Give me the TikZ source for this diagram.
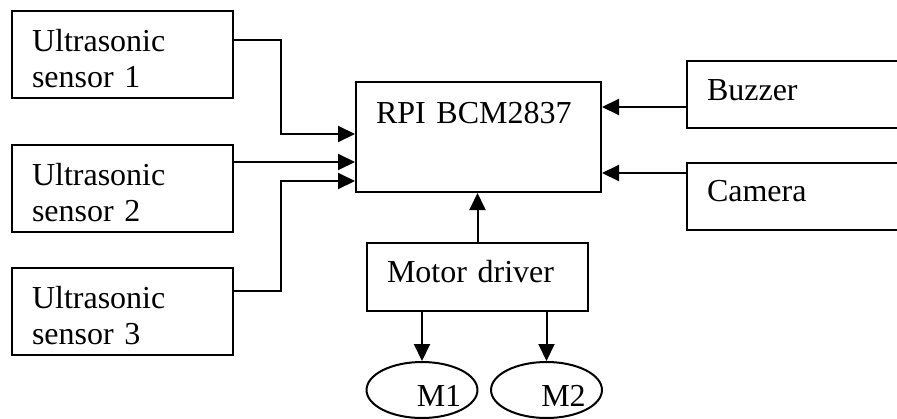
\documentclass[tikz,border=0pt]{standalone}
\usepackage{fontspec}
\setmainfont{Liberation Serif}
\usepackage{tikz}
\usetikzlibrary{positioning,arrows.meta,shapes.geometric}

\begin{document}
\begin{tikzpicture}[
  x=1pt, y=-1pt,
  font=\fontsize{32}{35.6}\selectfont,
  box/.style={rectangle,draw,line width=2pt, inner xsep=20pt,
              align=left, anchor=center},
  sensorbox/.style={box, text width=181pt, minimum height=87pt,
              text height=30pt},
  motor/.style={ellipse,draw,line width=2pt, inner sep=0pt,
              minimum width=110pt, minimum height=56pt,
              text height=33pt, text depth=0pt},
  arr/.style={line width=2pt, -{Triangle[length=17pt,width=16pt]}},
  node distance=45pt
]
  \useasboundingbox (0,0) rectangle (897,418);

  % sensors on the left
  \node[sensorbox]                  (s1) at (122.5,54.5) {Ultrasonic\\sensor 1};
  \node[sensorbox, below=of s1]     (s2) {Ultrasonic\\sensor 2};
  \node[sensorbox, below=34pt of s2] (s3) {Ultrasonic\\sensor 3};

  % controller and the rest
  \node[box, text width=205pt, minimum height=110pt,
        text height=21pt, text depth=48.4pt] (rpi) at (478.5,137) {RPI BCM2837};
  \node[box, text width=300pt, minimum height=67pt,
        text height=20.5pt, text depth=9.5pt] (bz) at (707+150,94.5) {Buzzer};
  \node[box, text width=300pt, minimum height=67pt,
        text height=20.5pt, text depth=10pt] (cam) at (707+150,196.5) {Camera};
  \node[box, text width=181pt, minimum height=68pt,
        text height=21.2pt, text depth=11.2pt] (md) at (477.5,277) {Motor driver};

  \node[motor] (m1) at (422,390)   {\hspace*{34pt}M1};
  \node[motor] (m2) at (546.5,390) {\hspace*{34pt}M2};

  % entry points on the controller
  \coordinate (bus) at (281,0);
  \coordinate (r1) at ([yshift=3pt]rpi.west);
  \coordinate (r2) at ([yshift=-25pt]rpi.west);
  \coordinate (r3) at ([yshift=-44pt]rpi.west);
  \coordinate (bzo) at ([yshift=-12.5pt]bz.west);
  \coordinate (camo) at ([yshift=23.5pt]cam.west);

  \draw[arr] ([yshift=14.5pt]s1.east) -| (bus |- r1) -- (r1);
  \draw[arr] (s2.east |- r2) -- (r2);
  \draw[arr] ([yshift=21pt]s3.east) -| (bus |- r3) -- (r3);

  \draw[arr] (bzo) -- (bzo -| rpi.east);
  \draw[arr] (camo) -- (camo -| rpi.east);

  \draw[arr] (md.north) -- (md.north |- rpi.south);
  \draw[arr] (md.south -| m1.north) -- (m1.north);
  \draw[arr] (md.south -| m2.north) -- (m2.north);
\end{tikzpicture}
\end{document}
